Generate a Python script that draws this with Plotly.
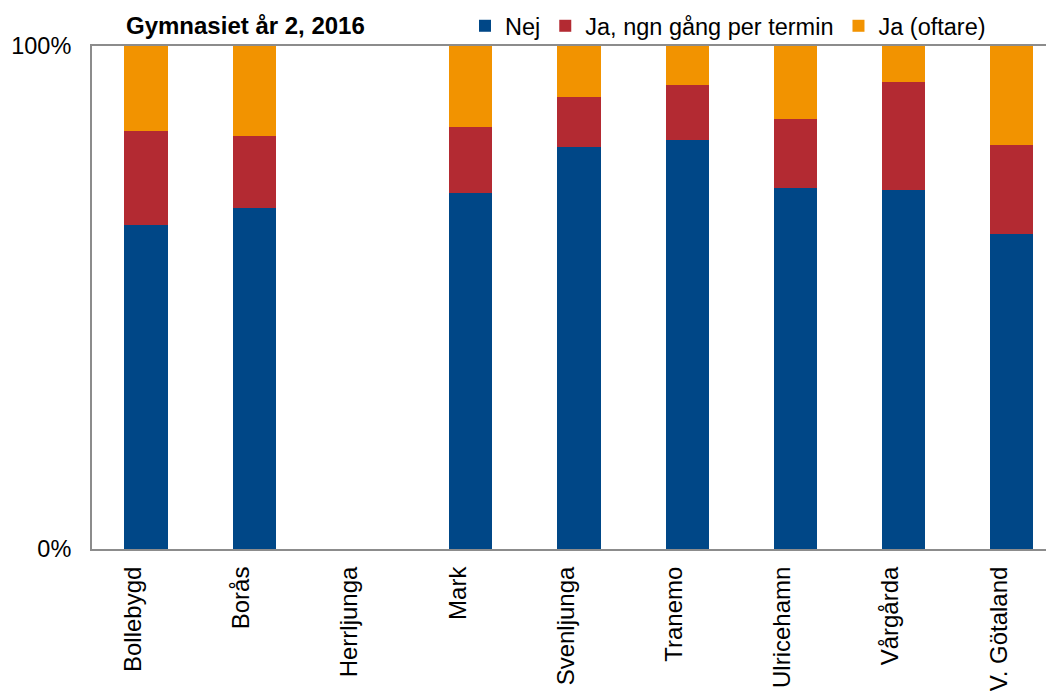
import plotly.graph_objects as go

categories = ["Bollebygd", "Borås", "Herrljunga", "Mark", "Svenljunga",
              "Tranemo", "Ulricehamn", "Vårgårda", "V. Götaland"]
nej = [64.5, 67.7, None, 70.8, 79.9, 81.4, 71.8, 71.3, 62.6]
ja_ngn = [18.7, 14.5, None, 13.1, 10.0, 10.9, 13.7, 21.5, 17.8]
ja_oftare = [16.8, 17.8, None, 16.1, 10.1, 7.7, 14.5, 7.2, 19.6]

series_names = ["Nej", "Ja, ngn gång per termin", "Ja (oftare)"]
series_colors = ["#004787", "#B32A32", "#F29300"]
y_tickvals = [0, 100]
y_ticktext = ["0%", "100%"]
title_text = "Gymnasiet år 2, 2016"

FONT = "Liberation Sans, Arial, sans-serif"
fig = go.Figure()
for name, vals, col in zip(series_names, [nej, ja_ngn, ja_oftare], series_colors):
    fig.add_trace(go.Bar(x=categories, y=vals, name=name,
                         marker=dict(color=col, line=dict(width=0))))

# page body has an 8px default margin, so the figure is 8px smaller
fig.update_layout(
    barmode="stack",
    bargap=0.6,
    width=1046, height=683,
    margin=dict(l=84, r=0, t=38, b=142, autoexpand=False),
    paper_bgcolor="white", plot_bgcolor="white",
    font=dict(family=FONT, size=23, color="#000000"),
    legend=dict(orientation="h", x=(465 - 92) / 962, xanchor="left",
                y=1 + (46 - 26) / 503, yanchor="middle",
                font=dict(size=23.5), itemwidth=30, traceorder="normal",
                bgcolor="rgba(0,0,0,0)", tracegroupgap=0),
    showlegend=True,
    annotations=[dict(text="<b>" + title_text + "</b>", xref="paper", yref="paper",
                      x=(124 - 92) / 962, y=1 + (46 - 25) / 503, xanchor="left",
                      yanchor="middle", showarrow=False, font=dict(size=24))],
)
fig.update_xaxes(range=[-0.5, 8.39], showline=True, linecolor="#8C8C8C", linewidth=2,
                 mirror=True, ticks="", tickangle=-90, ticklabelstandoff=6,
                 ticklabelshift=-13, tickfont=dict(size=24),
                 showgrid=False, zeroline=False, fixedrange=True, automargin=False)
fig.update_yaxes(range=[0, 100], tickvals=y_tickvals, ticktext=y_ticktext,
                 showline=True, linecolor="#8C8C8C", linewidth=2, mirror=False,
                 ticks="", ticklabelstandoff=14, showgrid=False, zeroline=False,
                 tickfont=dict(size=23.5),
                 fixedrange=True, automargin=False)

fig.write_html("out.html")
